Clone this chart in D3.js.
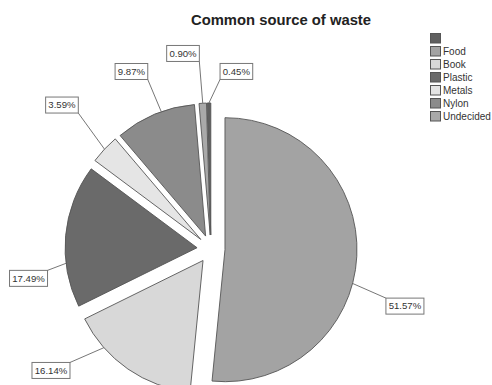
<!DOCTYPE html>
<html><head><meta charset="utf-8">
<script src="https://cdn.jsdelivr.net/npm/d3@7"></script>
<style>
html,body{margin:0;padding:0;background:#fff;}
svg{display:block;font-family:"Liberation Sans",Arial,sans-serif;}
</style></head>
<body>
<div id="chart"></div>
<script>
// ---- data ----
const categories = ["", "Food", "Book", "Plastic", "Metals", "Nylon", "Undecided"];
const values = [0.45, 51.57, 16.14, 17.49, 3.59, 9.87, 0.90];
const labels = ["0.45%", "51.57%", "16.14%", "17.49%", "3.59%", "9.87%", "0.90%"];
const title = "Common source of waste";

// ---- style / layout ----
const colors = ["#5f5f5f", "#a3a3a3", "#d8d8d8", "#6a6a6a", "#e5e5e5", "#8b8b8b", "#a9a9a9"];
// label box placement in polar terms from pie centre (deg clockwise from top, px)
const labelAngle = [8.5, 106.6, 232.4, 260.5, 314, 336, 352.1];
const labelRadius = [178.5, 203.4, 200.7, 184, 205.8, 193.2, 196.4];
// leader attach point shift from slice mid angle (deg)
const attachShift = [0, 12, 14, -12, 0, 3, 0];

const W = 492, H = 385;
const cx = 211, cy = 249, R = 132, explode = 14;

const svg = d3.select("#chart").append("svg").attr("width", W).attr("height", H);

svg.append("text").attr("x", 281).attr("y", 25).attr("text-anchor", "middle")
  .attr("font-size", 14.8).attr("font-weight", "bold").attr("fill", "#222").text(title);

const total = d3.sum(values);
const start = -2 * Math.PI * values[0] / total;
const pie = d3.pie().sort(null).startAngle(start).endAngle(start + 2 * Math.PI);
const arcs = pie(values);
const arc = d3.arc().innerRadius(0).outerRadius(R);

const g = svg.append("g").attr("transform", `translate(${cx},${cy})`);
const rad = d => d * Math.PI / 180;

arcs.forEach((a, i) => {
  const mid = (a.startAngle + a.endAngle) / 2;
  const ox = explode * Math.sin(mid), oy = -explode * Math.cos(mid);
  g.append("path").attr("d", arc(a)).attr("transform", `translate(${ox},${oy})`)
    .attr("fill", colors[i]).attr("stroke", "#555").attr("stroke-width", 0.9)
    .attr("stroke-linejoin", "round");
});

const lblG = g.append("g");
arcs.forEach((a, i) => {
  const mid = (a.startAngle + a.endAngle) / 2;
  const ox = explode * Math.sin(mid), oy = -explode * Math.cos(mid);
  const at = mid + rad(attachShift[i]);
  const ax = ox + R * Math.sin(at), ay = oy - R * Math.cos(at);
  const la = rad(labelAngle[i]);
  const lx = labelRadius[i] * Math.sin(la) - 1, ly = -labelRadius[i] * Math.cos(la) - 1;
  const t = lblG.append("text").attr("x", lx).attr("y", ly).attr("dy", "0.35em")
    .attr("text-anchor", "middle").attr("font-size", 9.6).attr("fill", "#333").text(labels[i]);
  const bb = t.node().getBBox();
  const bw = bb.width + 5, bh = 16;
  const bx = lx - bw / 2, by = ly - bh / 2;
  const ex = Math.max(bx, Math.min(bx + bw, ax)), ey = Math.max(by, Math.min(by + bh, ay));
  lblG.insert("line", "text").attr("x1", ax).attr("y1", ay).attr("x2", ex).attr("y2", ey)
    .attr("stroke", "#666").attr("stroke-width", 0.9);
  lblG.insert("rect", "text").attr("x", bx).attr("y", by).attr("width", bw).attr("height", bh)
    .attr("fill", "#fff").attr("stroke", "#777").attr("stroke-width", 1);
});

// legend
const leg = svg.append("g").attr("transform", "translate(430,33)");
categories.forEach((c, i) => {
  const row = leg.append("g").attr("transform", `translate(0,${i * 13})`);
  row.append("rect").attr("x", 0.5).attr("y", 0.5).attr("width", 10).attr("height", 9.5)
    .attr("fill", colors[i]).attr("stroke", "#555").attr("stroke-width", 1);
  row.append("text").attr("x", 13).attr("y", 9).attr("font-size", 10).attr("fill", "#333").text(c);
});
</script>
</body></html>
